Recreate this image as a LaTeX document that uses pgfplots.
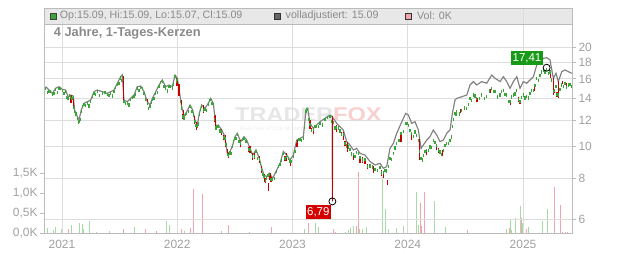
\documentclass[border=0pt]{standalone}
\usepackage{pgfplots}
\pgfplotsset{compat=1.18}
\usepackage{fontspec}
\setmainfont{Liberation Sans}
\definecolor{gridc}{HTML}{DDDDDD}
\definecolor{axc}{HTML}{BBBBBB}
\definecolor{tickc}{HTML}{A0A0A0}
\definecolor{cgreen}{HTML}{3AA63A}
\definecolor{cred}{HTML}{C80000}
\definecolor{cgray}{HTML}{808080}
\definecolor{vgreen}{HTML}{A6DBA6}
\definecolor{vred}{HTML}{F2A5AE}
\definecolor{bandc}{HTML}{E8E8E8}
\definecolor{txt}{HTML}{8A8A8A}
\definecolor{lgreen}{HTML}{179A17}
\definecolor{lred}{HTML}{D40000}
\definecolor{wmgray}{HTML}{E6E6E6}
\definecolor{wmred}{HTML}{F9D0D0}
\definecolor{wmsub}{HTML}{EAEAEA}

\pgfplotstableread{
x y
2020.859 15.15
2020.887 14.80
2020.916 14.46
2020.945 14.98
2020.974 15.15
2021.003 14.87
2021.032 14.80
2021.052 14.12
2021.075 14.29
2021.098 14.19
2021.110 12.87
2021.133 12.28
2021.148 12.00
2021.167 12.87
2021.191 13.48
2021.220 13.64
2021.249 13.80
2021.278 14.63
2021.306 14.80
2021.350 14.63
2021.393 14.46
2021.423 14.63
2021.451 14.80
2021.480 15.52
2021.509 16.25
2021.523 16.44
2021.538 13.80
2021.567 13.64
2021.596 13.96
2021.625 14.29
2021.653 15.15
2021.683 15.22
2021.712 14.63
2021.740 13.64
2021.764 13.33
2021.784 13.96
2021.813 14.63
2021.842 15.33
2021.870 15.88
2021.900 15.15
2021.928 15.33
2021.957 15.15
2021.981 16.44
2022.001 16.07
2022.030 13.80
2022.039 13.17
2022.059 12.28
2022.082 12.72
2022.111 13.33
2022.134 12.87
2022.154 12.00
2022.174 11.59
2022.191 12.57
2022.212 13.33
2022.241 13.02
2022.269 13.48
2022.290 13.96
2022.313 13.48
2022.336 11.45
2022.356 11.59
2022.386 11.19
2022.414 10.68
2022.434 9.50
2022.458 9.62
2022.481 10.07
2022.501 10.68
2022.521 10.93
2022.551 10.31
2022.579 10.68
2022.603 10.43
2022.631 9.84
2022.655 9.39
2022.683 9.73
2022.712 9.18
2022.733 8.56
2022.753 8.17
2022.776 8.07
2022.799 8.27
2022.828 7.98
2022.863 8.46
2022.892 8.86
2022.920 9.62
2022.950 9.39
2022.978 9.07
2023.007 9.39
2023.037 10.43
2023.065 10.55
2023.094 10.68
2023.117 12.87
2023.132 13.02
2023.152 11.72
2023.181 11.32
2023.210 11.59
2023.239 11.86
2023.282 12.14
2023.325 12.43
2023.344 12.30
2023.346 6.79
2023.348 12.20
2023.354 12.14
2023.384 11.72
2023.412 11.45
2023.441 11.19
2023.470 10.31
2023.499 10.07
2023.528 9.73
2023.557 9.84
2023.586 9.50
2023.629 9.39
2023.673 8.97
2023.716 8.76
2023.759 8.86
2023.788 8.56
2023.817 8.66
2023.846 9.84
2023.875 10.19
2023.904 10.93
2023.942 11.72
2023.982 12.57
2024.005 12.43
2024.034 11.72
2024.063 11.86
2024.092 11.19
2024.115 9.84
2024.135 10.07
2024.165 10.43
2024.193 10.68
2024.222 11.19
2024.251 10.80
2024.280 10.31
2024.309 10.43
2024.338 10.93
2024.367 11.19
2024.387 12.57
2024.410 13.80
2024.425 13.96
2024.468 14.12
2024.512 14.29
2024.540 15.33
2024.569 15.70
2024.598 15.33
2024.642 15.70
2024.685 15.52
2024.729 16.44
2024.757 16.07
2024.801 15.70
2024.829 16.25
2024.859 15.70
2024.887 14.98
2024.916 15.70
2024.946 16.25
2024.974 14.98
2025.003 15.70
2025.032 15.52
2025.061 15.88
2025.090 16.25
2025.119 17.63
2025.148 17.84
2025.176 18.48
2025.206 18.56
2025.234 18.26
2025.263 16.07
2025.286 16.64
2025.306 15.70
2025.336 16.83
2025.365 17.03
2025.393 16.83
2025.423 16.64
}\adjline

\pgfplotstableread{
x y
2020.859 15.00
2020.887 14.65
2020.916 14.32
2020.945 14.83
2020.974 15.00
2021.003 14.72
2021.032 14.65
2021.052 13.98
2021.075 14.15
2021.098 14.05
2021.110 12.74
2021.133 12.16
2021.148 11.88
2021.167 12.74
2021.191 13.35
2021.220 13.50
2021.249 13.66
2021.278 14.48
2021.306 14.65
2021.350 14.48
2021.393 14.32
2021.423 14.48
2021.451 14.65
2021.480 15.36
2021.509 16.09
2021.523 16.28
2021.538 13.66
2021.567 13.50
2021.596 13.82
2021.625 14.15
2021.653 15.00
2021.683 15.07
2021.712 14.48
2021.740 13.50
2021.764 13.20
2021.784 13.82
2021.813 14.48
2021.842 15.18
2021.870 15.72
2021.900 15.00
2021.928 15.18
2021.957 15.00
2021.981 16.28
2022.001 15.91
2022.030 13.66
2022.039 13.04
2022.059 12.16
2022.082 12.59
2022.111 13.20
2022.134 12.74
2022.154 11.88
2022.174 11.47
2022.191 12.44
2022.212 13.20
2022.241 12.89
2022.269 13.35
2022.290 13.82
2022.313 13.35
2022.336 11.34
2022.356 11.47
2022.386 11.08
2022.414 10.57
2022.434 9.41
2022.458 9.52
2022.481 9.97
2022.501 10.57
2022.521 10.82
2022.551 10.21
2022.579 10.57
2022.603 10.33
2022.631 9.74
2022.655 9.30
2022.683 9.63
2022.712 9.09
2022.733 8.47
2022.753 8.09
2022.776 7.99
2022.799 8.19
2022.828 7.90
2022.863 8.38
2022.892 8.77
2022.920 9.52
2022.950 9.30
2022.978 8.98
2023.007 9.30
2023.037 10.33
2023.065 10.44
2023.094 10.57
2023.117 12.74
2023.132 12.89
2023.152 11.60
2023.181 11.21
2023.210 11.47
2023.239 11.74
2023.282 12.02
2023.325 12.31
2023.354 11.78
2023.384 11.37
2023.412 11.11
2023.441 10.85
2023.470 10.00
2023.499 9.77
2023.528 9.44
2023.557 9.54
2023.586 9.22
2023.629 9.11
2023.673 8.70
2023.716 8.50
2023.759 8.59
2023.788 8.30
2023.817 8.40
2023.846 9.15
2023.875 9.48
2023.904 10.16
2023.942 10.90
2023.982 11.69
2024.005 11.56
2024.034 10.90
2024.063 11.03
2024.092 10.41
2024.115 9.15
2024.135 9.37
2024.165 9.70
2024.193 9.93
2024.222 10.41
2024.251 10.04
2024.280 9.59
2024.309 9.70
2024.338 10.16
2024.367 10.41
2024.387 11.44
2024.410 12.56
2024.425 12.70
2024.468 12.85
2024.512 13.00
2024.540 13.95
2024.569 14.29
2024.598 13.95
2024.642 14.29
2024.685 14.12
2024.729 14.96
2024.757 14.62
2024.801 14.29
2024.829 14.79
2024.859 14.29
2024.887 13.63
2024.916 14.29
2024.946 14.79
2024.974 13.63
2025.003 14.29
2025.032 14.12
2025.061 14.45
2025.090 14.79
2025.119 16.04
2025.148 16.41
2025.176 17.00
2025.206 17.08
2025.234 16.80
2025.263 14.62
2025.286 15.14
2025.306 14.29
2025.336 15.32
2025.365 15.50
2025.393 15.32
2025.423 15.14
2020.873 14.53
2020.902 14.63
2020.931 14.43
2020.960 14.54
2020.989 14.93
2021.018 14.46
2021.042 14.03
2021.064 14.21
2021.087 13.96
2021.104 13.07
2021.122 12.51
2021.141 11.84
2021.158 12.06
2021.179 13.18
2021.206 13.29
2021.235 13.24
2021.264 14.14
2021.292 14.35
2021.328 14.27
2021.372 14.54
2021.408 14.26
2021.437 14.20
2021.466 15.08
2021.495 15.49
2021.516 15.86
2021.553 13.44
2021.582 13.32
2021.611 14.05
2021.639 14.36
2021.668 14.73
2021.698 14.92
2021.726 13.85
2021.752 13.02
2021.774 13.58
2021.799 13.94
2021.828 14.53
2021.856 15.60
2021.885 15.21
2021.914 14.71
2021.943 15.17
2021.969 15.41
2021.991 15.77
2022.035 13.22
2022.049 12.29
2022.071 12.44
2022.097 12.70
2022.123 12.71
2022.144 12.43
2022.164 11.56
2022.183 11.66
2022.202 12.88
2022.227 12.85
2022.255 12.86
2022.280 13.72
2022.302 13.45
2022.325 12.04
2022.346 11.46
2022.371 11.11
2022.400 10.61
2022.424 10.09
2022.446 9.37
2022.470 9.50
2022.491 10.32
2022.511 10.53
2022.536 10.30
2022.565 10.49
2022.591 10.35
2022.617 9.78
2022.643 9.57
2022.669 9.32
2022.698 9.17
2022.723 8.87
2022.743 8.20
2022.765 7.84
2022.788 8.13
2022.814 7.92
2022.846 7.98
2022.878 8.66
2022.906 9.05
2022.935 9.17
2022.964 9.19
2022.993 9.00
2023.022 9.62
2023.051 10.49
2023.080 10.40
2023.106 11.36
2023.125 12.88
2023.142 12.06
2023.167 11.18
2023.196 11.45
2023.225 11.49
2023.261 11.58
2023.304 12.23
2023.340 11.86
2023.369 11.34
2023.398 11.35
2023.427 10.87
2023.456 10.16
2023.485 9.93
2023.514 9.46
2023.543 9.30
2023.572 9.47
2023.608 9.07
2023.651 8.68
2023.695 8.64
2023.738 8.42
2023.774 8.28
2023.803 8.43
2023.832 8.69
2023.861 9.08
2023.890 9.87
2023.923 10.37
2023.962 11.07
2023.994 11.74
2024.020 11.12
2024.049 10.69
2024.078 10.77
2024.104 9.63
2024.125 9.07
2024.150 9.63
2024.179 9.72
2024.208 9.92
2024.237 10.28
2024.266 9.67
2024.295 9.45
2024.324 10.03
2024.353 10.18
2024.377 10.65
2024.399 12.06
2024.418 12.44
2024.447 12.52
2024.490 13.05
2024.526 13.34
2024.555 13.77
2024.584 14.19
2024.620 13.91
2024.664 13.92
2024.707 14.69
2024.743 14.64
2024.779 14.09
2024.815 14.61
2024.844 14.32
2024.873 13.68
2024.902 14.10
2024.931 14.39
2024.960 13.85
2024.989 14.03
2025.018 13.99
2025.047 14.00
2025.076 14.77
2025.105 15.26
2025.134 15.82
2025.162 16.79
2025.191 16.78
2025.220 16.60
2025.249 15.87
2025.275 14.73
2025.296 14.35
2025.321 14.88
2025.351 15.18
2025.379 15.10
2025.408 15.38
}\candlesgreen

\pgfplotstableread{
x v
2020.872 0.12
2020.925 0.075
2020.948 0.14
2020.994 0.10
2021.081 0.20
2021.150 0.26
2021.174 0.22
2021.185 0.10
2021.243 0.30
2021.301 0.03
2021.410 0.06
2021.627 0.15
2021.905 0.30
2021.931 0.20
2022.061 0.06
2023.108 0.09
2023.198 0.26
2023.224 0.14
2023.456 0.03
2023.484 0.075
2023.505 0.12
2023.528 0.17
2023.580 0.09
2023.606 0.09
2023.644 0.16
2023.779 1.39
2023.811 0.59
2023.831 0.09
2023.904 0.12
2023.961 0.17
2024.072 1.03
2024.092 0.20
2024.230 0.80
2024.326 0.14
2024.859 0.09
2024.893 0.33
2024.898 0.075
2024.931 0.38
2024.974 0.68
2024.998 0.26
2025.050 0.16
2025.168 0.30
2025.211 0.59
2025.365 0.03
}\volgreen

\pgfplotstableread{
x v
2021.055 0.10
2021.532 0.10
2021.723 0.10
2021.818 0.06
2022.033 0.10
2022.119 0.12
2022.139 1.10
2022.215 0.975
2022.382 0.06
2022.443 0.20
2022.625 0.03
2022.820 0.16
2022.998 0.26
2023.137 0.26
2023.354 0.09
2023.375 0.03
2023.551 0.17
2023.571 1.52
2024.112 0.74
2024.121 0.17
2024.144 1.03
2024.517 0.075
2024.881 0.12
2024.983 0.37
2025.032 0.09
2025.272 1.16
2025.321 0.70
2025.341 0.03
2025.385 0.03
}\volred

\begin{document}
\begin{tikzpicture}[x=1bp,y=1bp]
\path[use as bounding box] (0,0) rectangle (632,253);
\fill[bandc] (44,229) rectangle (572,245);

% volume axis (left)
\begin{axis}[at={(44bp,20bp)}, anchor=south west, scale only axis,
  width=528bp, height=225bp,
  xmin=2020.844, xmax=2025.425, ymin=0, ymax=5.625,
  hide x axis, axis y line*=left,
  axis line style={axc, line width=0.8bp},
  ytick={0,0.5,1,1.5}, yticklabels={{0,0K},{0,5K},{1,0K},{1,5K}},
  tick align=outside, major tick length=4bp, tick style={axc, line width=0.8bp},
  yticklabel style={font=\fontsize{12}{14}\selectfont, text=tickc, xshift=1bp},
  clip=true]
\addplot[ycomb, vgreen, line width=1bp, mark=none] table[x=x, y=v] {\volgreen};
\addplot[ycomb, vred, line width=1bp, mark=none] table[x=x, y=v] {\volred};
\end{axis}

% watermark
\node[anchor=west, inner sep=0, font=\bfseries\fontsize{20}{22}\selectfont, xscale=1.18] at (235,138)
  {\textcolor{wmgray}{TRADER}\textcolor{wmred}{FOX}};
\node[anchor=west, inner sep=0, font=\fontsize{5}{6}\selectfont, text=wmsub] at (240,124) {REALTIME STOCK SCANNER};

% price axis (right)
\begin{axis}[at={(44bp,20bp)}, anchor=south west, scale only axis,
  width=528bp, height=225bp,
  xmin=2020.844, xmax=2025.425,
  ymode=log, ymin=5.442, ymax=26.276,
  axis line style={axc, line width=0.8bp},
  ytick pos=right, xtick pos=bottom,
  ytick={6,8,10,12,14,16,18,20}, yticklabels={6,8,10,12,14,16,18,20},
  yminorticks=false,
  xtick={2021,2022,2023,2024,2025}, xticklabels={2021,2022,2023,2024,2025},
  grid=major, grid style={gridc, line width=0.8bp},
  tick align=outside, major tick length=4bp, tick style={axc, line width=0.8bp},
  xtick style={draw=none},
  yticklabel style={font=\fontsize{12}{14}\selectfont, text=tickc, xshift=-1bp},
  xticklabel style={font=\fontsize{12}{14}\selectfont, text=tickc, yshift=0bp},
  unbounded coords=jump, clip=true]
\addplot[cgray, line width=1.15bp, mark=none] table[x=x, y=y] {\adjline};
\addplot[only marks, mark=|, mark size=1.6bp, cgreen, mark options={line width=1.3bp}] table[x=x, y=y] {\candlesgreen};
\addplot[cred, line width=1.3bp, mark=none] coordinates {
(2021.078,13.5)(2021.078,14.3)(2021.078,nan)
(2021.098,13.2)(2021.098,14.2)(2021.098,nan)
(2021.533,13.8)(2021.533,16.3)(2021.533,nan)
(2021.740,13.3)(2021.740,13.9)(2021.740,nan)
(2021.999,15.2)(2021.999,16.1)(2021.999,nan)
(2022.015,14.2)(2022.015,15.4)(2022.015,nan)
(2022.035,12.9)(2022.035,13.8)(2022.035,nan)
(2022.055,12.0)(2022.055,12.9)(2022.055,nan)
(2022.150,11.7)(2022.150,12.3)(2022.150,nan)
(2022.170,11.2)(2022.170,11.8)(2022.170,nan)
(2022.230,12.6)(2022.230,13.3)(2022.230,nan)
(2022.333,11.2)(2022.333,12.4)(2022.333,nan)
(2022.386,10.8)(2022.386,11.3)(2022.386,nan)
(2022.418,9.9)(2022.418,10.8)(2022.418,nan)
(2022.434,9.3)(2022.434,9.8)(2022.434,nan)
(2022.550,9.9)(2022.550,10.4)(2022.550,nan)
(2022.632,9.5)(2022.632,10.0)(2022.632,nan)
(2022.655,9.1)(2022.655,9.5)(2022.655,nan)
(2022.712,8.9)(2022.712,9.3)(2022.712,nan)
(2022.733,8.3)(2022.733,8.7)(2022.733,nan)
(2022.760,7.8)(2022.760,8.2)(2022.760,nan)
(2022.790,7.3)(2022.790,7.7)(2022.790,nan)
(2022.805,7.9)(2022.805,8.3)(2022.805,nan)
(2022.950,9.0)(2022.950,9.5)(2022.950,nan)
(2022.980,8.7)(2022.980,9.1)(2022.980,nan)
(2023.040,9.9)(2023.040,10.4)(2023.040,nan)
(2023.152,11.3)(2023.152,12.0)(2023.152,nan)
(2023.181,10.9)(2023.181,11.3)(2023.181,nan)
(2023.346,6.79)(2023.346,12.3)(2023.346,nan)
(2023.384,11.0)(2023.384,11.6)(2023.384,nan)
(2023.441,10.4)(2023.441,11.0)(2023.441,nan)
(2023.475,9.6)(2023.475,10.3)(2023.475,nan)
(2023.528,9.1)(2023.528,9.5)(2023.528,nan)
(2023.586,8.9)(2023.586,9.3)(2023.586,nan)
(2023.629,8.8)(2023.629,9.2)(2023.629,nan)
(2023.700,8.3)(2023.700,8.7)(2023.700,nan)
(2023.788,8.0)(2023.788,8.4)(2023.788,nan)
(2023.822,7.6)(2023.822,7.9)(2023.822,nan)
(2023.940,10.3)(2023.940,10.8)(2023.940,nan)
(2024.034,10.4)(2024.034,10.9)(2024.034,nan)
(2024.100,9.07)(2024.100,10.5)(2024.100,nan)
(2024.165,9.4)(2024.165,9.8)(2024.165,nan)
(2024.250,9.7)(2024.250,10.1)(2024.250,nan)
(2024.300,9.3)(2024.300,9.7)(2024.300,nan)
(2024.460,12.6)(2024.460,13.0)(2024.460,nan)
(2024.600,13.6)(2024.600,14.0)(2024.600,nan)
(2024.720,14.5)(2024.720,14.9)(2024.720,nan)
(2024.890,13.3)(2024.890,13.7)(2024.890,nan)
(2024.975,13.4)(2024.975,13.8)(2024.975,nan)
(2025.100,14.7)(2025.100,15.1)(2025.100,nan)
(2025.240,16.1)(2025.240,16.6)(2025.240,nan)
(2025.262,14.3)(2025.262,16.1)(2025.262,nan)
(2025.305,14.0)(2025.305,15.8)(2025.305,nan)
(2025.340,15.4)(2025.340,15.8)(2025.340,nan)
(2025.380,15.1)(2025.380,15.5)(2025.380,nan)
(2022.049,12.1)(2022.049,12.5)(2022.049,nan)
(2022.164,11.4)(2022.164,11.7)(2022.164,nan)
(2022.325,11.8)(2022.325,12.3)(2022.325,nan)
(2022.400,10.4)(2022.400,10.8)(2022.400,nan)
(2022.446,9.2)(2022.446,9.55)(2022.446,nan)
(2022.617,9.6)(2022.617,9.95)(2022.617,nan)
(2022.669,9.15)(2022.669,9.5)(2022.669,nan)
(2022.765,7.7)(2022.765,8.0)(2022.765,nan)
(2022.814,7.8)(2022.814,8.05)(2022.814,nan)
(2022.935,9.0)(2022.935,9.35)(2022.935,nan)
(2023.167,11.0)(2023.167,11.35)(2023.167,nan)
(2023.427,10.7)(2023.427,11.05)(2023.427,nan)
(2023.456,10.0)(2023.456,10.35)(2023.456,nan)
(2023.514,9.3)(2023.514,9.6)(2023.514,nan)
(2023.608,8.9)(2023.608,9.25)(2023.608,nan)
(2023.651,8.5)(2023.651,8.85)(2023.651,nan)
(2023.774,8.1)(2023.774,8.45)(2023.774,nan)
(2024.104,9.45)(2024.104,9.8)(2024.104,nan)
(2024.266,9.5)(2024.266,9.85)(2024.266,nan)
(2024.873,13.5)(2024.873,13.85)(2024.873,nan)
(2024.960,13.65)(2024.960,14.05)(2024.960,nan)
(2025.275,14.5)(2025.275,14.95)(2025.275,nan)
(2025.296,14.1)(2025.296,14.6)(2025.296,nan)
};
\addplot[only marks, mark=o, mark size=3.5bp, black, mark options={line width=0.8bp}] coordinates {(2023.346,6.79) (2025.205,17.3)};
\end{axis}

% value labels
\node[fill=lgreen, text=white, font=\fontsize{11.5}{12}\selectfont, inner xsep=1.2bp, inner ysep=0bp, minimum height=14bp] at (527,195) {17,41};
\node[fill=lred, text=white, font=\fontsize{11.5}{12}\selectfont, inner xsep=1.2bp, inner ysep=0bp, minimum height=14bp] at (318.3,40.6) {6,79};

% header legend
\draw[axc, line width=0.8bp] (44,229) -- (572,229);
\filldraw[fill=cgreen, draw=black!75, line width=0.7bp] (50.5,234) rectangle (56.5,240);
\node[anchor=west, inner sep=0, text=txt, font=\fontsize{10.7}{12}\selectfont] at (59.7,237) {Op:15.09, Hi:15.09, Lo:15.07, Cl:15.09};
\filldraw[fill=black!60, draw=black!80, line width=0.7bp] (274,234) rectangle (280,240);
\node[anchor=west, inner sep=0, text=txt, font=\fontsize{10.7}{12}\selectfont] at (285.5,237) {volladjustiert: 15.09};
\filldraw[fill=vred, draw=black!80, line width=0.7bp] (405,234) rectangle (411,240);
\node[anchor=west, inner sep=0, text=txt, font=\fontsize{10.7}{12}\selectfont] at (417,237) {Vol: 0K};
\node[anchor=west, inner sep=0, text=txt, font=\bfseries\fontsize{12.9}{14}\selectfont] at (53.6,220) {4 Jahre, 1-Tages-Kerzen};
\end{tikzpicture}
\end{document}
